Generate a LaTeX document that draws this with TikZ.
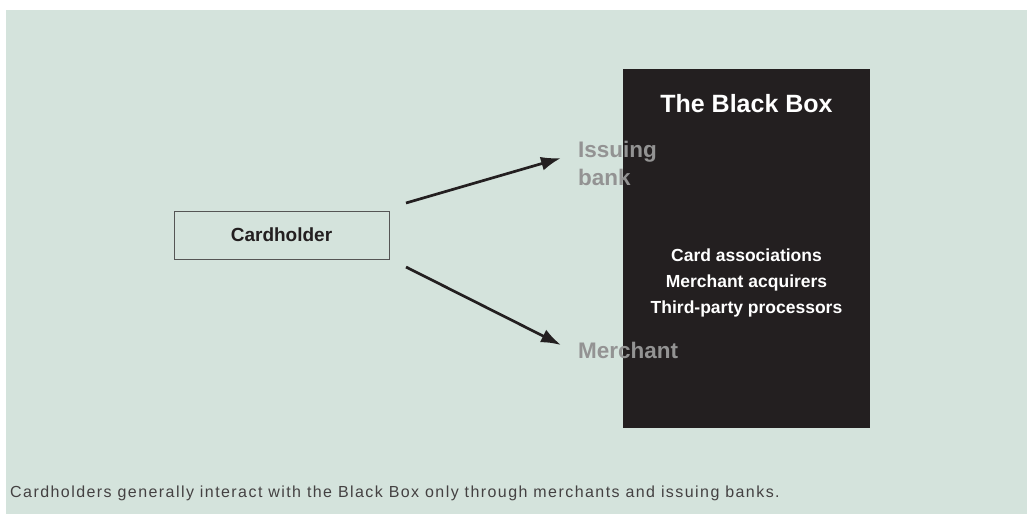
\documentclass[tikz,border=0pt]{standalone}
\usepackage{fontspec}
\setmainfont{Liberation Sans}
\usetikzlibrary{arrows.meta,positioning}
\definecolor{Sage}{HTML}{D4E3DC}
\definecolor{BoxInk}{HTML}{231F20}
\definecolor{LabelGray}{HTML}{939393}
\definecolor{EdgeGray}{HTML}{555555}

\begin{document}
\begin{tikzpicture}[x=1pt,y=-1pt,>=Latex,
    flow/.style={-{Latex[length=20pt,width=14pt]},BoxInk,line width=2.7pt},
    party/.style={font=\fontsize{22.5}{28}\selectfont\bfseries,text=LabelGray,align=left,inner sep=0pt}]
    \useasboundingbox (0,0) rectangle (1027,514);
    \fill[Sage] (6,10) rectangle (1027,514);

    \fill[BoxInk] (623,69) rectangle (870,428);
    \node[font=\fontsize{25}{30}\selectfont\bfseries,text=white] (title) at (746.5,104)
      {The Black Box};
    \node[align=center,font=\fontsize{17.5}{26}\selectfont\bfseries,text=white] (members) at (746.5,283)
      {Card associations\\Merchant acquirers\\Third-party processors};

    \node[draw=EdgeGray,fill=Sage,line width=0.9pt,minimum width=215pt,minimum height=48pt,
          font=\fontsize{19}{23}\selectfont\bfseries,text=BoxInk] (holder) at (281.5,235)
      {Cardholder};

    \node[party,anchor=west] (issuing) at (578,163) {Issuing\\bank};
    \node[party,anchor=west] (merchant) at (578,350) {Merchant};

    \coordinate (out1) at (406,203);
    \coordinate (out2) at (406,267);
    \coordinate (in1) at (561,158);
    \coordinate (in2) at (561,345);
    \draw[flow] (out1) -- (in1);
    \draw[flow] (out2) -- (in2);

    \node[anchor=base west,inner sep=0pt,font=\fontsize{16}{18}\selectfont\addfontfeatures{LetterSpace=9},text=BoxInk!85] (caption) at (10,497)
      {Cardholders generally interact with the Black Box only through merchants and issuing banks.};
  \end{tikzpicture}
\end{document}
